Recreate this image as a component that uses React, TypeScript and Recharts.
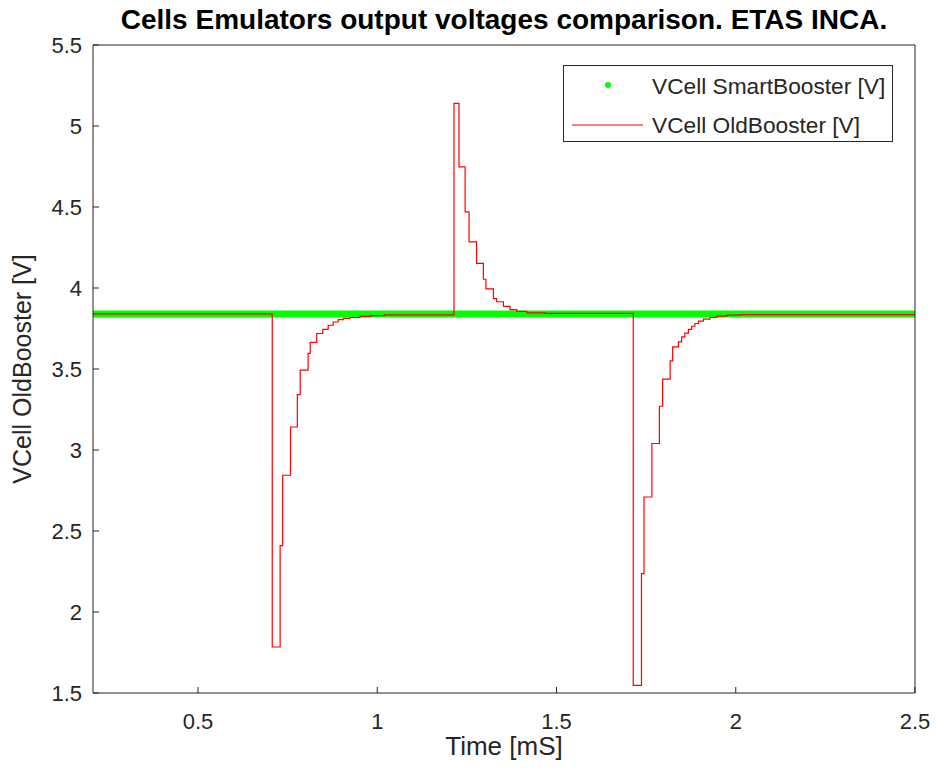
import { LineChart, Line, XAxis, YAxis, Legend } from "recharts"

// time axis [mS] and voltage axis [V]
const timeTicks = [0.5, 1, 1.5, 2, 2.5]
const voltTicks = [1.5, 2, 2.5, 3, 3.5, 4, 4.5, 5, 5.5]

// SmartBooster: flat output over the whole record
const smartTime = [0.207, 2.5]
const smartVolt = [3.84, 3.84]

// OldBooster: sampled (held) output, value changes only
const oldTime = [
  0.207, 0.707, 0.729, 0.736, 0.758, 0.777, 0.785, 0.807, 0.813, 0.831, 0.848, 0.863, 0.877, 0.891,
  0.905, 0.924, 0.952, 0.98, 1.02, 1.214, 1.228, 1.245, 1.256, 1.277, 1.296, 1.303, 1.324, 1.333,
  1.352, 1.37, 1.389, 1.417, 1.468, 1.714, 1.737, 1.744, 1.766, 1.787, 1.796, 1.817, 1.824, 1.84,
  1.849, 1.858, 1.868, 1.877, 1.886, 1.896, 1.91, 1.928, 1.947, 1.975, 2.01, 2.5,
]
const oldVolt = [
  3.84, 1.784, 2.41, 2.844, 3.142, 3.342, 3.493, 3.596, 3.664, 3.719, 3.744, 3.77, 3.79, 3.805,
  3.812, 3.818, 3.825, 3.83, 3.834, 5.14, 4.748, 4.47, 4.285, 4.152, 4.054, 3.995, 3.935, 3.915,
  3.886, 3.866, 3.856, 3.847, 3.843, 1.547, 2.237, 2.71, 3.04, 3.27, 3.437, 3.55, 3.636, 3.667,
  3.698, 3.722, 3.744, 3.764, 3.781, 3.795, 3.808, 3.818, 3.826, 3.832, 3.836, 3.836,
]

const smartData = smartTime.map((t, i) => ({ t, v: smartVolt[i] }))
const oldData = oldTime.map((t, i) => ({ t, v: oldVolt[i] }))

const AXIS = "#262626"
const FONT = "'Liberation Sans', Arial, Helvetica, sans-serif"

function LegendBox() {
  return (
    <div
      style={{
        position: "relative",
        width: 330,
        height: 77,
        boxSizing: "border-box",
        border: `1px solid ${AXIS}`,
        background: "#fff",
        fontFamily: FONT,
        fontSize: 22.7,
        color: AXIS,
        whiteSpace: "nowrap",
      }}
    >
      <svg width={328} height={75} style={{ position: "absolute", left: 0, top: 0 }}>
        <circle cx={44} cy={19} r={3} fill="#00ff00" />
        <line x1={8} x2={79} y1={59} y2={59} stroke="#ff0000" strokeWidth={1.2} />
      </svg>
      <div style={{ position: "absolute", left: 88, top: 7, lineHeight: "26px" }}>VCell SmartBooster [V]</div>
      <div style={{ position: "absolute", left: 88, top: 46, lineHeight: "26px" }}>VCell OldBooster [V]</div>
    </div>
  )
}

export default function App() {
  const tickStyle = { fill: AXIS, fontSize: 22, fontFamily: FONT }
  return (
    <div style={{ position: "relative", width: 936, height: 774, background: "#fff", fontFamily: FONT }}>
      <style>{"body{margin:0;background:#fff}"}</style>
      <div
        style={{
          position: "absolute",
          left: 93,
          width: 822,
          top: 3,
          textAlign: "center",
          fontWeight: "bold",
          fontSize: 28,
          lineHeight: "33px",
          color: "#000",
          whiteSpace: "nowrap",
        }}
      >
        Cells Emulators output voltages comparison. ETAS INCA.
      </div>
      <LineChart width={936} height={774} margin={{ top: 44, right: 20, bottom: 0, left: 0 }}>
        <XAxis
          type="number"
          dataKey="t"
          domain={[0.207, 2.5]}
          ticks={timeTicks}
          interval={0}
          allowDataOverflow
          height={81}
          tickSize={-6}
          tickMargin={26}
          tick={tickStyle}
          axisLine={{ stroke: AXIS }}
          tickLine={{ stroke: AXIS }}
          label={{ value: "Time [mS]", position: "insideBottom", offset: 19, style: { fill: AXIS, fontSize: 26, fontFamily: FONT } }}
        />
        <XAxis
          xAxisId="top"
          orientation="top"
          type="number"
          domain={[0.207, 2.5]}
          ticks={timeTicks}
          interval={0}
          allowDataOverflow
          height={1}
          tickSize={-6}
          tick={false}
          axisLine={{ stroke: AXIS }}
          tickLine={{ stroke: AXIS }}
        />
        <YAxis
          type="number"
          domain={[1.5, 5.5]}
          ticks={voltTicks}
          interval={0}
          allowDataOverflow
          width={93}
          tickSize={-6}
          tickMargin={17}
          tick={tickStyle}
          axisLine={{ stroke: AXIS }}
          tickLine={{ stroke: AXIS }}
          label={{
            value: "VCell OldBooster [V]",
            angle: -90,
            position: "insideLeft",
            offset: 22,
            style: { textAnchor: "middle", fill: AXIS, fontSize: 25, fontFamily: FONT },
          }}
        />
        <YAxis
          yAxisId="right"
          orientation="right"
          type="number"
          domain={[1.5, 5.5]}
          ticks={voltTicks}
          interval={0}
          allowDataOverflow
          width={1}
          tickSize={-6}
          tick={false}
          axisLine={{ stroke: AXIS }}
          tickLine={{ stroke: AXIS }}
        />
        <Line
          data={smartData}
          dataKey="v"
          name="VCell SmartBooster [V]"
          type="linear"
          stroke="#00ff00"
          strokeWidth={7}
          strokeLinecap="round"
          dot={false}
          isAnimationActive={false}
        />
        <Line
          data={oldData}
          dataKey="v"
          name="VCell OldBooster [V]"
          type="stepAfter"
          stroke="#ff0000"
          strokeWidth={1.2}
          dot={false}
          isAnimationActive={false}
        />
        <Legend
          layout="vertical"
          align="center"
          verticalAlign="middle"
          content={() => <LegendBox />}
          wrapperStyle={{ left: 563, top: 65, width: 330, height: 77 }}
        />
      </LineChart>
    </div>
  )
}
